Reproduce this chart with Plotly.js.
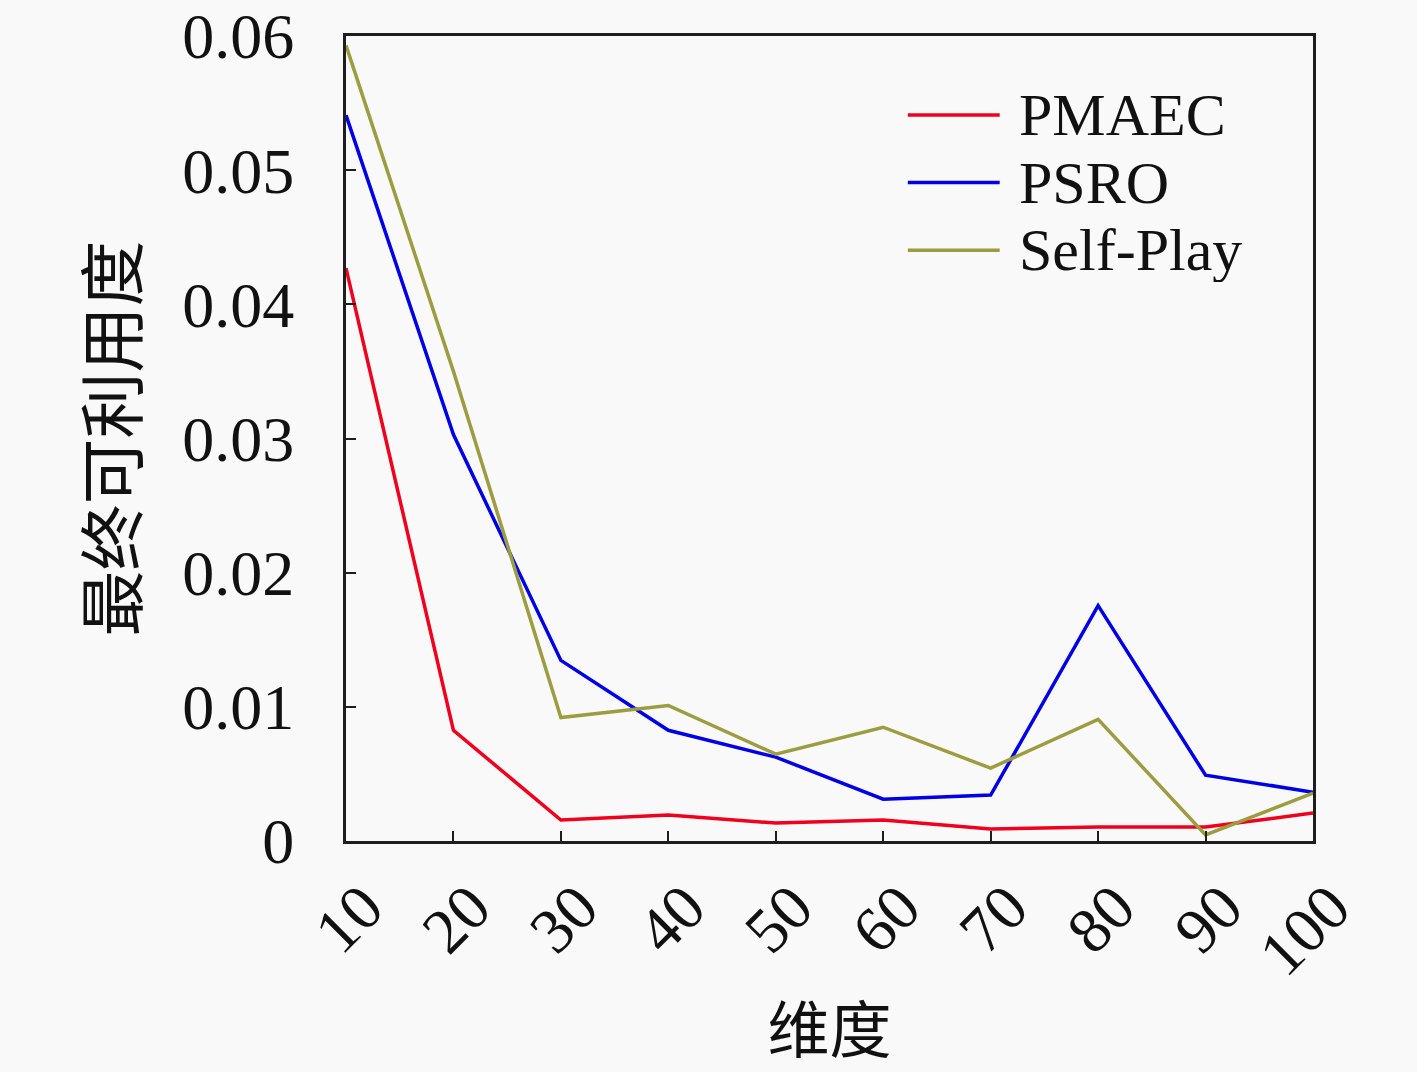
<!DOCTYPE html>
<html>
<head>
<meta charset="utf-8">
<script src="https://cdn.plot.ly/plotly-3.0.1.min.js"></script>
<style>
  html, body { margin: 0; padding: 0; background: #f9f9f9; }
  #chart { width: 1417px; height: 1072px; }
</style>
</head>
<body>
<div id="chart"></div>
<script>
// 维度 (x) vs 最终可利用度 (y), three methods
const dims = [10, 20, 30, 40, 50, 60, 70, 80, 90, 100];
const pmaec = [0.0427, 0.00825, 0.00156, 0.00193, 0.00134, 0.00156, 0.0009, 0.00104, 0.00104, 0.00208];
const psro = [0.0541, 0.0303, 0.01346, 0.00825, 0.00625, 0.00312, 0.00342, 0.01755, 0.0049, 0.00364];
const selfPlay = [0.0593, 0.0350, 0.0092, 0.0101, 0.00647, 0.00848, 0.00543, 0.00907, 0.00045, 0.00357];

const yTicks = [0, 0.01, 0.02, 0.03, 0.04, 0.05, 0.06];
const yTickText = ['0', '0.01', '0.02', '0.03', '0.04', '0.05', '0.06'];

const nombres = ['PMAEC', 'PSRO', 'Self-Play'];
const colores = ['#f0001c', '#0000e6', '#9c9c40'];
const valores = [pmaec, psro, selfPlay];

const SERIF = '"Liberation Serif", "DejaVu Serif", serif';
const CJK = '"Noto Sans CJK SC", sans-serif';

const trazas = nombres.map((nombre, i) => ({
  type: 'scatter',
  mode: 'lines',
  name: nombre,
  x: dims,
  y: valores[i],
  line: { color: colores[i], width: 3.5 },
  showlegend: false,
}));

// Leyenda dibujada a mano: la muestra de línea nativa de Plotly es muy corta
// comparada con la del original (~90px), así que se arma con shapes + texto.
const LEY_X0 = 0.581, LEY_X1 = 0.676, LEY_TX = 0.695;
const LEY_Y = [0.902, 0.818, 0.734];

const leyShapes = nombres.map((n, i) => ({
  type: 'line', xref: 'paper', yref: 'paper',
  x0: LEY_X0, x1: LEY_X1, y0: LEY_Y[i], y1: LEY_Y[i],
  line: { color: colores[i], width: 3.5 },
}));
const leyTextos = nombres.map((n, i) => ({
  xref: 'paper', yref: 'paper', x: LEY_TX, y: LEY_Y[i],
  xanchor: 'left', yanchor: 'middle', showarrow: false,
  height: 64, borderpad: 0,
  text: n, font: { family: SERIF, size: 60, color: '#111' },
}));

const ejeComun = {
  showline: true,
  linecolor: '#1e1e1e',
  linewidth: 3,
  mirror: true,
  ticks: 'inside',
  ticklen: 10,
  tickwidth: 2,
  tickcolor: '#1e1e1e',
  showgrid: false,
  zeroline: false,
  ticklabeloverflow: 'allow',
  tickfont: { family: SERIF, size: 64, color: '#111' },
};

const layout = {
  width: 1417,
  height: 1072,
  margin: { l: 346, r: 104, t: 36, b: 231 },
  paper_bgcolor: '#f9f9f9',
  plot_bgcolor: '#f9f9f9',
  showlegend: false,
  shapes: leyShapes,
  annotations: leyTextos,
  xaxis: Object.assign({}, ejeComun, {
    range: [10, 100],
    tickvals: dims,
    tickangle: -45,
    ticklabelstandoff: 0,
    ticklabelshift: 18,
    title: { text: '维度', font: { family: CJK, size: 62, color: '#111' }, standoff: 22 },
  }),
  yaxis: Object.assign({}, ejeComun, {
    range: [0, 0.06],
    tickvals: yTicks,
    ticktext: yTickText,
    ticklabelstandoff: 36,
    title: { text: '最终可利用度', font: { family: CJK, size: 66, color: '#111' }, standoff: 24 },
  }),
};

Plotly.newPlot('chart', trazas, layout, { displayModeBar: false, staticPlot: true });
</script>
</body>
</html>
